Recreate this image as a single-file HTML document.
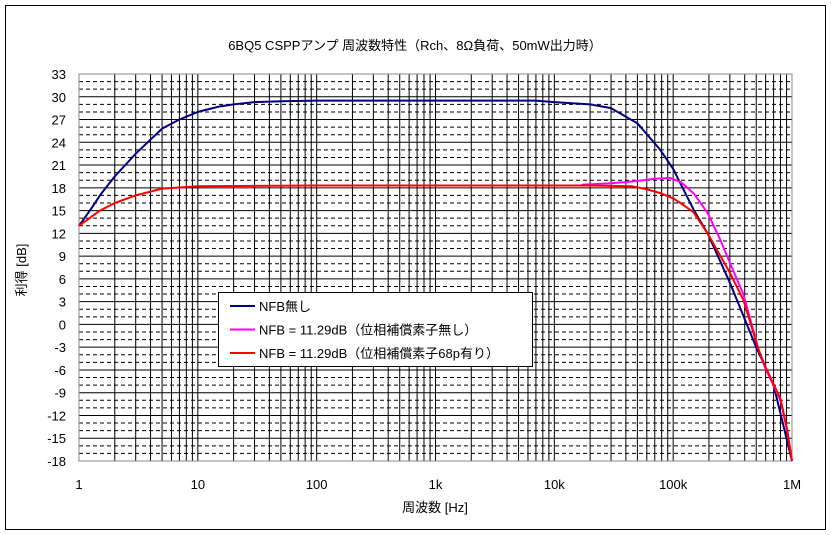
<!DOCTYPE html>
<html><head><meta charset="utf-8">
<style>
html,body{margin:0;padding:0;background:#fff;}
svg{display:block;font-family:"Liberation Sans","Noto Sans CJK JP",sans-serif;}
</style></head>
<body>
<svg id="chart" width="831" height="535" xmlns="http://www.w3.org/2000/svg">
<rect x="0" y="0" width="831" height="535" fill="#fff"/>
<rect x="5.5" y="5.5" width="820" height="524" fill="none" stroke="#000" stroke-width="1"/>
<text x="415" y="50" text-anchor="middle" font-size="13">6BQ5 CSPPアンプ 周波数特性（Rch、8Ω負荷、50mW出力時）</text>
<text transform="translate(26,270) rotate(-90)" text-anchor="middle" font-size="13">利得 [dB]</text>
<text x="435" y="512" text-anchor="middle" font-size="13">周波数 [Hz]</text>
<g id="grid"></g>
<g id="ticks"></g>
<g id="series"></g>
<g id="legend"></g>
</svg>
<script>
const yTicks = [33,30,27,24,21,18,15,12,9,6,3,0,-3,-6,-9,-12,-15,-18];
const xTickLabels = ["1","10","100","1k","10k","100k","1M"];
const freqNoNfb = [1,1.3,1.5,2,3,5,7,10,15,20,30,50,100,1000,7000,10000,20000,30000,50000,78000,100000,120000,150000,195000,300000,500000,700000,1000000];
const gainNoNfb = [13,15.5,17,19.5,22.5,25.8,27,28,28.7,29,29.3,29.4,29.5,29.5,29.5,29.3,29,28.5,26.5,23,20.5,18,15,12,5.5,-3,-8,-18];
const freqNfb = [17000,30000,50000,70000,94000,115000,132000,150000,195000,250000,300000,390000,520000,590000,800000,910000,1000000];
const gainNfb = [18.4,18.6,18.9,19.2,19.3,18.8,18,17.2,14.7,11.1,8.1,4,-3.2,-5.6,-10,-14,-18];
const freqNfbC = [1,1.5,2,3,5,10,100,1000,10000,20000,45000,60000,78000,100000,115000,148000,195000,300000,390000,520000,590000,800000,910000,1000000];
const gainNfbC = [13,15,16,17,17.9,18.2,18.3,18.3,18.3,18.3,18.2,17.8,17.3,16.6,16,14.8,12,6.8,3.2,-3.2,-5.4,-9.8,-13.8,-18];

const X0=79, X1=792, Y0=74, Y1=461, YMAX=33, YMIN=-18;
const xS = f => X0 + Math.log10(f)/6*(X1-X0);
const yS = v => Y0 + (YMAX-v)/(YMAX-YMIN)*(Y1-Y0);
const NS="http://www.w3.org/2000/svg";
function mk(tag, attrs, parent){const e=document.createElementNS(NS,tag);for(const k in attrs)e.setAttribute(k,attrs[k]);parent.appendChild(e);return e;}
const grid=document.getElementById('grid'), ticks=document.getElementById('ticks'), series=document.getElementById('series'), legend=document.getElementById('legend');

for(let v=YMIN; v<=YMAX; v++){
  if(v%3===0) continue;
  const y=yS(v);
  const l=mk('line',{x1:X0,x2:X1,y1:y,y2:y,stroke:'#000','stroke-width':1,'stroke-dasharray':'4,3'},grid);
  
  
}
for(let d=0; d<6; d++){
  for(let m=2; m<=9; m++){
    const x=xS(m*Math.pow(10,d));
    const l=mk('line',{x1:x,x2:x,y1:Y0,y2:Y1,stroke:'#000','stroke-width':1},grid);
    
    
  }
}
for(let d=0; d<=6; d++){
  const x=xS(Math.pow(10,d));
  const l=mk('line',{x1:x,x2:x,y1:Y0,y2:Y1,stroke:'#000','stroke-width':1},grid);
  
  
}
yTicks.forEach(v=>{
  const y=yS(v);
  const l=mk('line',{x1:X0,x2:X1,y1:y,y2:y,stroke:'#000','stroke-width':1},grid);
  
  
  const t=mk('text',{x:66,y:y+5,'text-anchor':'end','font-size':13},ticks);
  t.textContent=String(v);
  
  
});
xTickLabels.forEach((s,i)=>{
  const t=mk('text',{x:xS(Math.pow(10,i)),y:489,'text-anchor':'middle','font-size':13},ticks);
  t.textContent=s;
  
  
});
const fr=mk('rect',{x:X0,y:Y0,width:X1-X0,height:Y1-Y0,fill:'none',stroke:'#888','stroke-width':1},grid);



function line(fs,gs,color,name){
  const pts=fs.map((f,i)=>xS(f).toFixed(1)+','+yS(gs[i]).toFixed(1)).join(' ');
  const p=mk('polyline',{points:pts,fill:'none',stroke:color,'stroke-width':2,'stroke-linejoin':'round'},series);
  
  
}
line(freqNoNfb,gainNoNfb,'#000080','series-no-nfb');
line(freqNfb,gainNfb,'#ff00ff','series-nfb-no-compensation');
line(freqNfbC,gainNfbC,'#ff0000','series-nfb-68p-compensation');

const lb=mk('rect',{x:218.5,y:292.5,width:314,height:74,fill:'#fff',stroke:'#000','stroke-width':1},legend);


const entries=[['NFB無し','#000080'],['NFB = 11.29dB（位相補償素子無し）','#ff00ff'],['NFB = 11.29dB（位相補償素子68p有り）','#ff0000']];
entries.forEach((e,i)=>{
  const y=306+i*23.5;
  const g=mk('g',{},legend);
  
  
  mk('line',{x1:230,x2:255,y1:y,y2:y,stroke:e[1],'stroke-width':2},g);
  const t=mk('text',{x:259,y:y+5,'font-size':13},g);
  t.textContent=e[0];
});
</script>
</body></html>
